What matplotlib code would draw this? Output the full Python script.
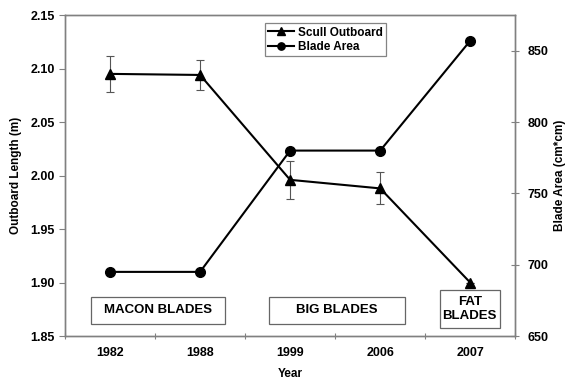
import matplotlib.pyplot as plt
from matplotlib.patches import Rectangle

plt.rcParams['font.family'] = ['Liberation Sans', 'DejaVu Sans']
plt.rcParams['font.weight'] = 'bold'

years = ['1982', '1988', '1999', '2006', '2007']
outboard = [2.095, 2.094, 1.996, 1.988, 1.900]
outboard_err = [0.017, 0.014, 0.018, 0.015, 0.0]
blade_area = [695, 695, 780, 780, 857]

# blade era labels: text, x-span (category units), y-span (outboard units)
eras = ['MACON BLADES', 'BIG BLADES', 'FAT\nBLADES']
era_x = [(-0.21, 1.28), (1.77, 3.27), (3.66, 4.33)]
era_y = [(1.861, 1.887), (1.861, 1.887), (1.8575, 1.893)]

x = list(range(len(years)))
axis_grey = '#808080'

fig = plt.figure(figsize=(5.65, 3.85), dpi=100)
ax = fig.add_axes([0.115, 0.127, 0.797, 0.834])
ax2 = ax.twinx()

l1 = ax.errorbar(x, outboard, yerr=outboard_err, color='black', marker='^',
                 markersize=7, linewidth=1.5, elinewidth=0.8, ecolor='#555555',
                 capsize=3, capthick=0.8, label='Scull Outboard')
l2, = ax2.plot(x, blade_area, color='black', marker='o', markersize=7,
               linewidth=1.5, label='Blade Area')

ax.set_xlim(-0.5, 4.5)
ax.set_ylim(1.85, 2.15)
ax.set_yticks([1.85, 1.90, 1.95, 2.00, 2.05, 2.10, 2.15])
ax.set_yticklabels([f'{v:.2f}' for v in ax.get_yticks()])
ax2.set_ylim(650, 875)
ax2.set_yticks([650, 700, 750, 800, 850])

# category boundaries carry the tick marks, centres carry the labels
ax.set_xticks([i - 0.5 for i in range(len(years) + 1)])
ax.set_xticklabels([])
ax.set_xticks(x, minor=True)
ax.set_xticklabels(years, minor=True)
ax.tick_params(axis='x', which='minor', length=0, pad=8, labelsize=9)
ax.tick_params(axis='x', which='major', direction='inout', length=5, color=axis_grey)
ax.tick_params(axis='y', direction='out', length=4, color=axis_grey, labelsize=9)
ax2.tick_params(axis='y', direction='inout', length=6, color=axis_grey,
                labelsize=9, pad=6)

for a in (ax, ax2):
    for s in a.spines.values():
        s.set_color(axis_grey)
        s.set_linewidth(1.0)

ax.set_xlabel('Year', fontsize=8.5, fontweight='bold', labelpad=6)
ax.set_ylabel('Outboard Length (m)', fontsize=8.5, fontweight='bold', labelpad=6)
ax2.set_ylabel('Blade Area (cm*cm)', fontsize=8.5, fontweight='bold', labelpad=4,
               rotation=90)

for label, (x0, x1), (y0, y1) in zip(eras, era_x, era_y):
    ax.add_patch(Rectangle((x0, y0), x1 - x0, y1 - y0, facecolor='white',
                           edgecolor='#666666', linewidth=0.9, zorder=5))
    ax.text((x0 + x1) / 2, (y0 + y1) / 2, label, ha='center', va='center',
            fontsize=9.5, fontweight='bold', linespacing=1.15, zorder=6)

leg = ax2.legend([l1[0], l2], ['Scull Outboard', 'Blade Area'],
                 loc='upper left', bbox_to_anchor=(0.444, 0.975), borderaxespad=0,
                 fontsize=8.5, frameon=True, fancybox=False, handlelength=2.2,
                 handletextpad=0.3, borderpad=0.3, labelspacing=0.2,
                 markerscale=0.75)
leg.get_frame().set_edgecolor('#666666')
leg.get_frame().set_linewidth(0.9)

fig.savefig('out.png', dpi=100)
